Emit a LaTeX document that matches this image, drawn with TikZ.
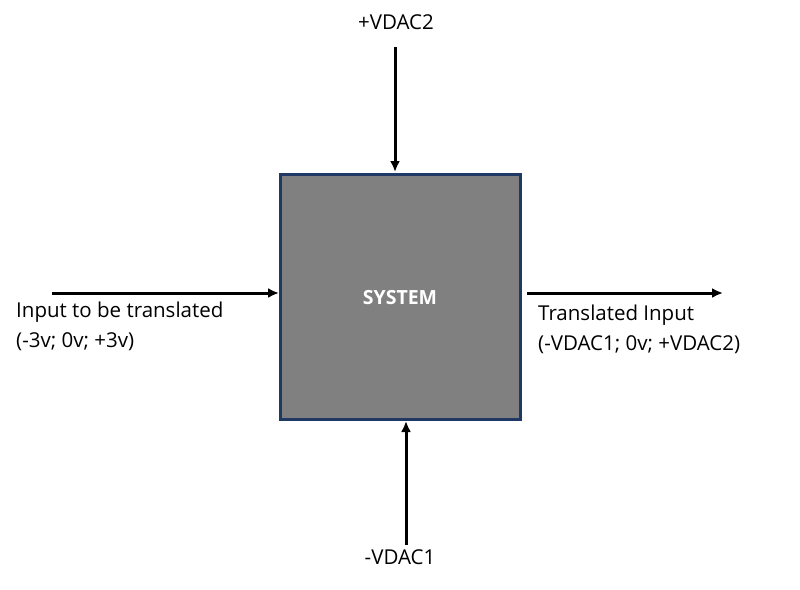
\documentclass[tikz,border=0pt]{standalone}
\usepackage{fontspec}
\setmainfont{Open Sans}
\usetikzlibrary{arrows.meta}
\begin{document}
\begin{tikzpicture}[x=1pt,y=-1pt,
  arr/.style={line width=3pt,-{Latex[length=11pt,width=10pt]}},
  lbl/.style={font=\fontsize{20.5}{30}\selectfont,inner sep=0pt,align=left}]
\useasboundingbox[fill=white] (0,0) rectangle (800,589);
\node[draw={rgb,255:red,31;green,56;blue,100},line width=3pt,fill={rgb,255:red,128;green,128;blue,128},
  minimum width=240pt,minimum height=245pt,inner sep=0pt] (sys) at (400,296.5) {};
\node[text=white,font=\fontsize{19.5}{22}\selectfont\bfseries] (st) at (400,298) {SYSTEM};
\node[lbl] (top) at (396,22) {+VDAC2};
\node[lbl] (bot) at (400,557) {-VDAC1};
\node[lbl,anchor=north west] (inp) at (16,302) {Input to be translated\\(-3v; 0v; +3v)};
\node[lbl,anchor=north west] (out) at (538,305) {Translated Input\\(-VDAC1; 0v; +VDAC2)};
\coordinate (t0) at (395,47); \coordinate (t1) at (395,172);
\coordinate (b0) at (406,545); \coordinate (b1) at (406,421);
\coordinate (l0) at (52,293); \coordinate (l1) at (279,293);
\coordinate (r0) at (527,293); \coordinate (r1) at (723,293);
\draw[arr] (t0) -- (t1);
\draw[arr] (b0) -- (b1);
\draw[arr] (l0) -- (l1);
\draw[arr] (r0) -- (r1);
\end{tikzpicture}
\end{document}
